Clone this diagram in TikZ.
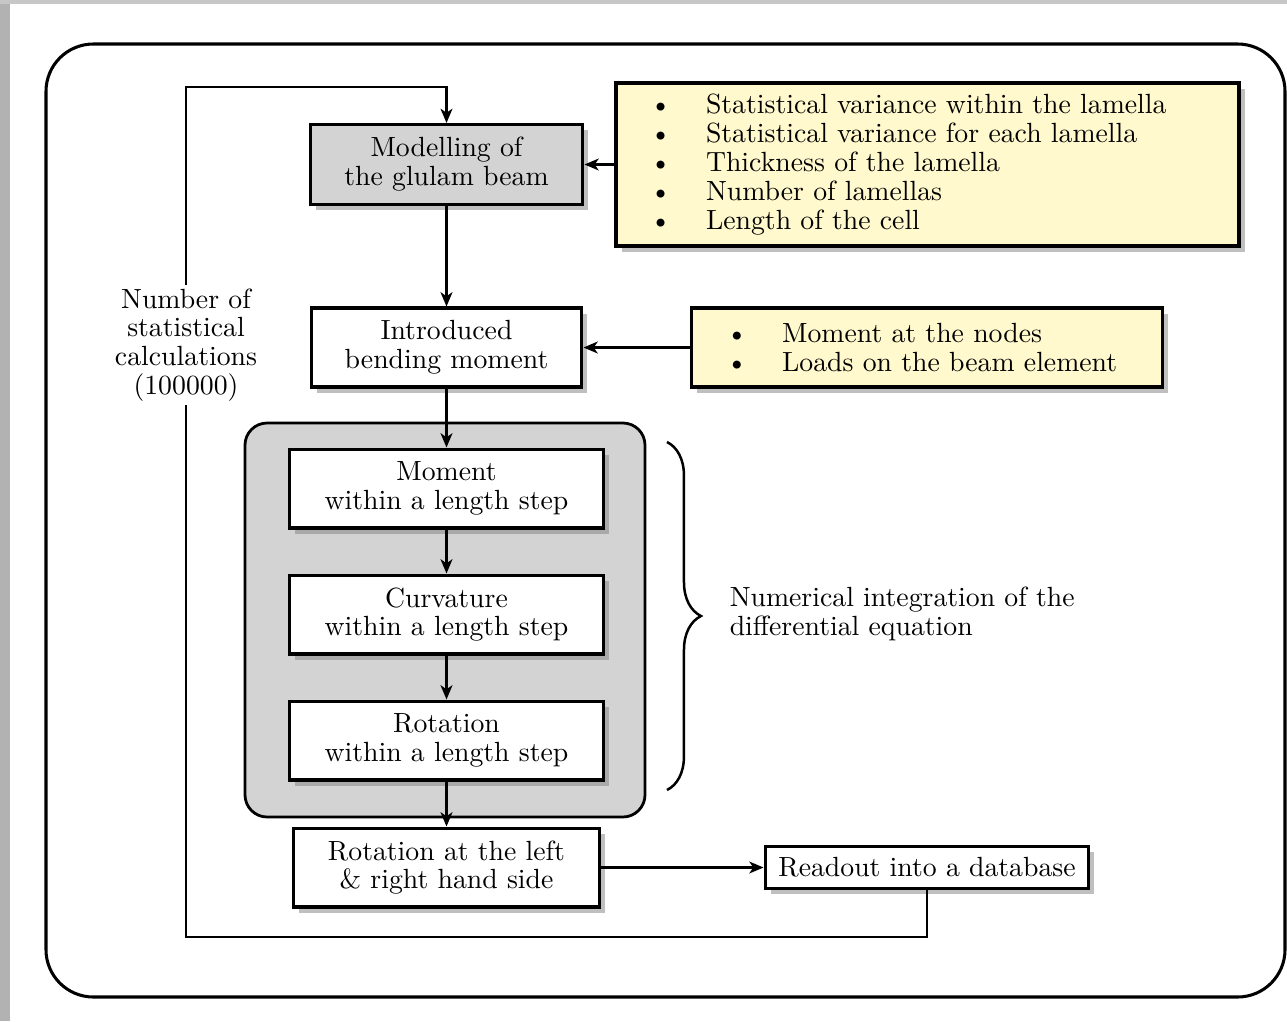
\documentclass[tikz,border=0pt]{standalone}
\usetikzlibrary{arrows.meta,shadows,decorations.pathreplacing,calc}
\definecolor{boxgray}{RGB}{211,211,211}
\definecolor{lyellow}{RGB}{255,249,205}
\begin{document}
\begin{tikzpicture}[x=0.01266cm,y=-0.01266cm,
  every node/.style={font=\fontsize{10}{10.4}\selectfont},
  shad/.style={drop shadow={shadow xshift=0.07cm,shadow yshift=-0.07cm,opacity=0.5}},
  box/.style={draw=black, line width=1.1pt, fill=white, align=center, inner sep=0pt, shad},
  ybox/.style={draw=black, line width=1.1pt, fill=lyellow, align=left, inner ysep=0pt, shad},
  line/.style={draw=black, line width=0.8pt},
  conn/.style={line, -{Stealth[length=1.8mm,width=1.5mm,inset=0.5mm]}}
]
% background and bounding box
\fill[white] (0,0) rectangle (1287,1021);
\useasboundingbox (0,0) rectangle (1287,1021);
\fill[black!30] (0,0) rectangle (10,1021);
\fill[black!22] (0,0) rectangle (1287,4);
% outer frame
\draw[line width=1.1pt, rounded corners=0.6cm] (46,44) rectangle (1285,997);
% container
\draw[line width=1pt, fill=boxgray, rounded corners=0.28cm] (245,423) rectangle (645,817);

\node[box, fill=boxgray, minimum width=3.456cm, minimum height=1.013cm] (model) at (446.5,164.5) {Modelling of\\the glulam beam};
\node[ybox, minimum width=7.887cm, minimum height=2.064cm, text width=7.03cm, inner xsep=0.43cm] (list1) at (927.5,164.5)
 {\makebox[0.71cm][l]{\textbullet}Statistical variance within the lamella\\
  \makebox[0.71cm][l]{\textbullet}Statistical variance for each lamella\\
  \makebox[0.71cm][l]{\textbullet}Thickness of the lamella\\
  \makebox[0.71cm][l]{\textbullet}Number of lamellas\\
  \makebox[0.71cm][l]{\textbullet}Length of the cell};
\node[box, minimum width=3.431cm, minimum height=1cm] (intro) at (446.5,347.5) {Introduced\\bending moment};
\node[ybox, minimum width=5.976cm, minimum height=1cm, text width=5.09cm, inner xsep=0.443cm] (list2) at (927,347.5)
 {\makebox[0.71cm][l]{\textbullet}Moment at the nodes\\
  \makebox[0.71cm][l]{\textbullet}Loads on the beam element};
\node[box, minimum width=3.975cm, minimum height=1cm] (mom) at (446.5,488.5) {Moment\\within a length step};
\node[box, minimum width=3.975cm, minimum height=1cm] (curv) at (446.5,614.5) {Curvature\\within a length step};
\node[box, minimum width=3.975cm, minimum height=1cm] (rot) at (446.5,740.5) {Rotation\\within a length step};
\node[box, minimum width=3.887cm, minimum height=1cm] (rotlr) at (446.5,867.5) {Rotation at the left\\\& right hand side};
\node[box, minimum width=4.102cm, minimum height=0.532cm] (read) at (927,867.5) {Readout into a database};

\node[align=center, inner sep=1pt] (nstat) at (186,345) {Number of\\statistical\\calculations\\(100000)};
\node[align=left, anchor=west] (numint) at (720,614) {Numerical integration of the\\differential equation};

\coordinate (cBL) at (186,937);
\coordinate (cTL) at (186,87);

\draw[conn] (model.south) -- (intro.north);
\draw[conn] (list1.west) -- (model.east);
\draw[conn] (list2.west) -- (intro.east);
\draw[conn] (intro.south) -- (mom.north);
\draw[conn] (mom.south) -- (curv.north);
\draw[conn] (curv.south) -- (rot.north);
\draw[conn] (rot.south) -- (rotlr.north);
\draw[conn] (rotlr.east) -- (read.west);
\draw[line] (read.south) |- (cBL) -- (nstat.south);
\draw[conn] (nstat.north) -- (cTL) -| (model.north);

\draw[line width=0.9pt, decorate, decoration={brace, amplitude=0.43cm}] (667,442) -- (667,790);
\end{tikzpicture}
\end{document}
